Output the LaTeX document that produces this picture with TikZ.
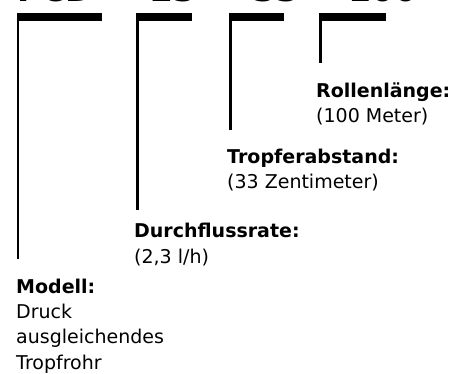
\documentclass[tikz,border=0pt]{standalone}
\usepackage{fontspec}
\setmainfont{DejaVu Sans}
\begin{document}
\begin{tikzpicture}[x=1pt,y=-1pt,
  bar/.style={line width=7.7pt, line cap=butt},
  stem/.style={line width=2.5pt, line cap=butt},
  lbl/.style={anchor=base west, inner sep=0pt, align=left, text=black,
    font=\fontsize{19}{25.3}\selectfont},
  head/.style={anchor=base west, inner sep=0pt,
    font=\fontsize{33}{36}\selectfont\bfseries}]
\useasboundingbox (0,0) rectangle (463,373);
\clip (0,0) rectangle (463,373);

% code line at the top, cut off by the upper edge as in the reference
\node[head] (hA) at (17,1.8) {PCD};
\node[head] (hB) at (150,1.8) {23};
\node[head] (hC) at (253,1.8) {33};
\node[head] (hD) at (348,1.8) {100};

% bracket corners and ends
\coordinate (a1) at (16.7,17.2);  \coordinate (a2) at (101.7,17.2);
\coordinate (b1) at (136,17.2);   \coordinate (b2) at (191.7,17.2);
\coordinate (c1) at (229,17.2);   \coordinate (c2) at (284,17.2);
\coordinate (d1) at (319.3,17.2); \coordinate (d2) at (385.7,17.2);

\coordinate (as) at (18,13.35);   \coordinate (ae) at (18,259);
\coordinate (bs) at (137.3,13.35);\coordinate (be) at (137.3,210);
\coordinate (cs) at (230.3,13.35);\coordinate (ce) at (230.3,130);
\coordinate (ds) at (320.6,13.35);\coordinate (de) at (320.6,63);

\draw[bar] (a1) -- (a2);
\draw[bar] (b1) -- (b2);
\draw[bar] (c1) -- (c2);
\draw[bar] (d1) -- (d2);
\draw[stem] (as) -- (ae);
\draw[stem] (bs) -- (be);
\draw[stem] (cs) -- (ce);
\draw[stem] (ds) -- (de);

% labels (anchored at the baseline of their last line)
\node[lbl] (roll) at (316,122.3) {\textbf{Rollenlänge:}\\(100 Meter)};
\node[lbl] (trop) at (227,188.3) {\textbf{Tropferabstand:}\\(33 Zentimeter)};
\node[lbl] (durch) at (134,263) {\textbf{Durchflussrate:}\\(2,3 l/h)};
\node[lbl] (mod) at (16,369) {\textbf{Modell:}\\Druck\\ausgleichendes\\Tropfrohr};
\end{tikzpicture}
\end{document}
